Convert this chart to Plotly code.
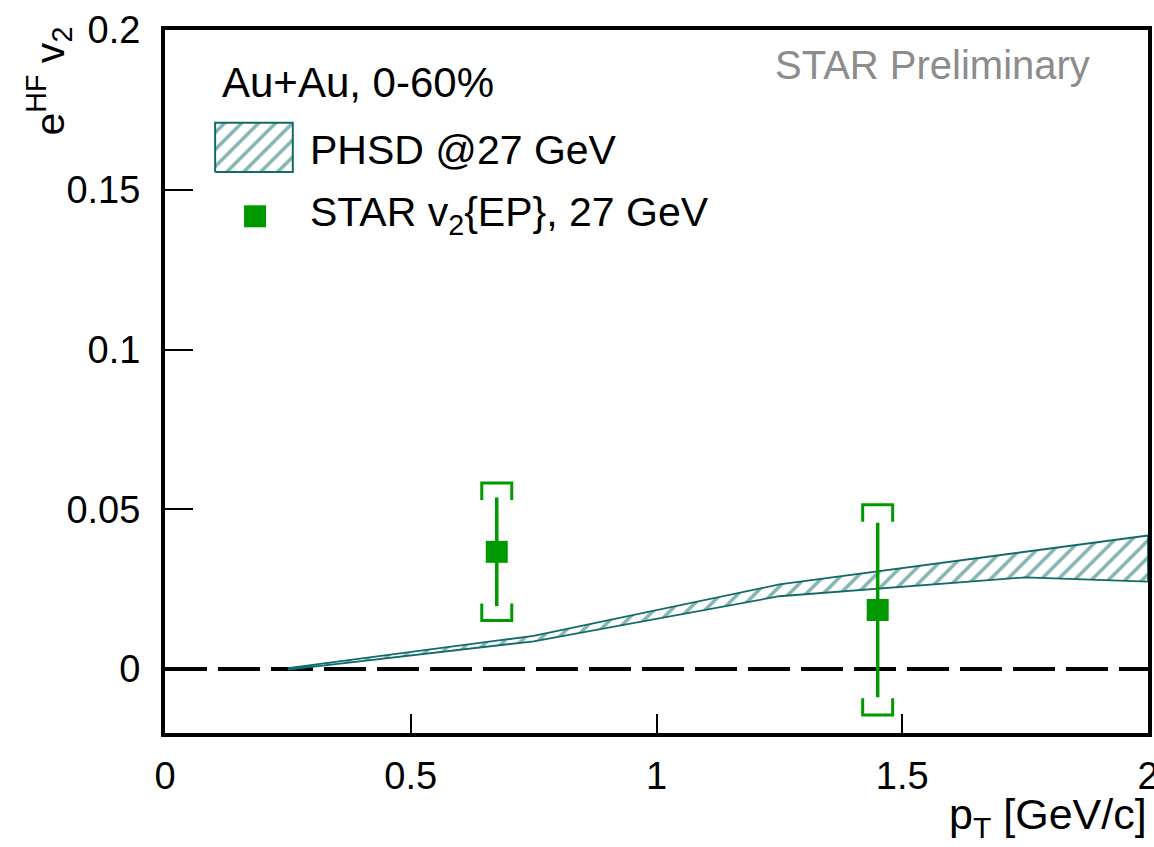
import plotly.graph_objects as go

# PHSD model band (upper / lower edges vs pT)
phsd_pt = [0.25, 0.75, 1.25, 1.75, 2.0]
phsd_upper = [0.0003, 0.0104, 0.0265, 0.0368, 0.0418]
phsd_lower = [-0.0002, 0.0087, 0.0228, 0.0287, 0.0274]

# STAR measurement, v2{EP} at 27 GeV
star_pt = [0.675, 1.45]
star_v2 = [0.0367, 0.0185]
star_stat = [0.0170, 0.0273]
star_sys = [0.0215, 0.0329]

x_ticks = [0, 0.5, 1, 1.5, 2]
x_tick_text = ["0", "0.5", "1", "1.5", "2"]
y_ticks = [0, 0.05, 0.1, 0.15, 0.2]
y_tick_text = ["0", "0.05", "0.1", "0.15", "0.2"]

TEAL = "#136a6a"
GREEN = "#009a00"
FONT = "Liberation Sans, Arial, sans-serif"

HATCH = dict(shape="/", fgcolor=TEAL, bgcolor="white", size=12, solidity=0.3)

fig = go.Figure()

# hatched model band
fig.add_trace(go.Scatter(
    x=phsd_pt + phsd_pt[::-1],
    y=phsd_upper + phsd_lower[::-1],
    mode="lines", fill="toself",
    line=dict(color=TEAL, width=1.8),
    fillcolor="white",
    fillpattern=HATCH,
    hoverinfo="skip", showlegend=False,
))

# systematic brackets built from the sys errors
bx, by = [], []
half_w = 0.0305
arm = 0.0053
for x, y, s in zip(star_pt, star_v2, star_sys):
    top = y + s
    bot = y - s
    bx += [x - half_w, x - half_w, x + half_w, x + half_w, None]
    by += [top - arm, top, top, top - arm, None]
    bx += [x - half_w, x - half_w, x + half_w, x + half_w, None]
    by += [bot + arm, bot, bot, bot + arm, None]
fig.add_trace(go.Scatter(
    x=bx, y=by, mode="lines",
    line=dict(color=GREEN, width=3),
    hoverinfo="skip", showlegend=False,
))

# data points with statistical errors
fig.add_trace(go.Scatter(
    x=star_pt, y=star_v2, mode="markers",
    marker=dict(symbol="square", size=22, color=GREEN, line=dict(width=0)),
    error_y=dict(type="data", array=star_stat, visible=True,
                 color=GREEN, thickness=3.5, width=0),
    showlegend=False,
))

# legend glyphs on an overlay axis in plot-fraction units
leg_box_x = [0.051, 0.130, 0.130, 0.051, 0.051]
leg_box_y = [0.798, 0.798, 0.868, 0.868, 0.798]
fig.add_trace(go.Scatter(
    x=leg_box_x, y=leg_box_y, xaxis="x2", yaxis="y2",
    mode="lines", fill="toself",
    line=dict(color=TEAL, width=2),
    fillcolor="white",
    fillpattern=HATCH,
    hoverinfo="skip", showlegend=False,
))
fig.add_trace(go.Scatter(
    x=[0.0916], y=[0.735], xaxis="x2", yaxis="y2",
    mode="markers",
    marker=dict(symbol="square", size=22, color=GREEN, line=dict(width=0)),
    hoverinfo="skip", showlegend=False,
))

# dashed zero line
fig.add_shape(type="line", xref="x", yref="y", x0=0, x1=2, y0=0, y1=0,
              line=dict(color="black", width=4, dash="42px,11px"), layer="below")

axis_common = dict(
    showline=True, linecolor="black", linewidth=4, mirror=True,
    ticks="inside", tickcolor="black", tickwidth=1.5,
    showgrid=False, zeroline=False, ticklabeloverflow="allow", automargin=False,
    tickfont=dict(family=FONT, size=38, color="black"),
)

fig.update_layout(
    width=1154, height=847,
    margin=dict(l=165, r=6, t=30, b=114, autoexpand=False),
    paper_bgcolor="white", plot_bgcolor="white",
    font=dict(family=FONT, color="black"),
    xaxis=dict(range=[0, 2], tickvals=x_ticks, ticktext=x_tick_text,
               ticklen=19, ticklabelstandoff=6, **axis_common),
    yaxis=dict(range=[-0.02, 0.2], tickvals=y_ticks, ticktext=y_tick_text,
               ticklen=28, ticklabelstandoff=13, **axis_common),
    xaxis2=dict(overlaying="x", range=[0, 1], visible=False),
    yaxis2=dict(overlaying="y", range=[0, 1], visible=False),
    showlegend=False,
)

annotations = [
    dict(text="Au+Au, 0-60%", x=0.056, y=0.926, size=42),
    dict(text="PHSD @27 GeV", x=0.145, y=0.830, size=41),
    dict(text="STAR v<sub>2</sub>{EP}, 27 GeV", x=0.145, y=0.737, size=41),
]
for a in annotations:
    fig.add_annotation(text=a["text"], xref="paper", yref="paper", x=a["x"], y=a["y"],
                       xanchor="left", yanchor="middle", showarrow=False,
                       font=dict(family=FONT, size=a["size"], color="black"))

fig.add_annotation(text="STAR Preliminary", xref="paper", yref="paper",
                   x=0.943, y=0.95, xanchor="right", yanchor="middle", showarrow=False,
                   font=dict(family=FONT, size=40, color="#8c8c8c"))

# axis titles
fig.add_annotation(text="e<sup>HF</sup> v<sub>2</sub>", xref="paper", yref="paper",
                   x=-0.118, y=1.007, xanchor="center", yanchor="top", textangle=-90,
                   showarrow=False, font=dict(family=FONT, size=41, color="black"))
fig.add_annotation(text="p<sub>T</sub> [GeV/c]", xref="paper", yref="paper",
                   x=1.001, y=-0.078, xanchor="right", yanchor="top",
                   showarrow=False, font=dict(family=FONT, size=43, color="black"))

fig.write_html("out.html")
